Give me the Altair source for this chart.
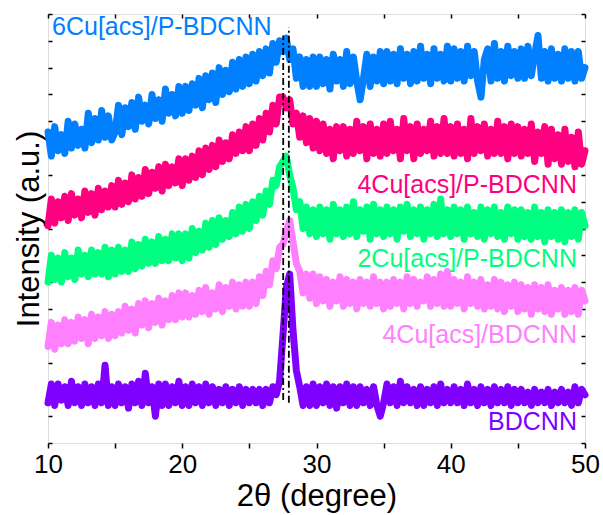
import altair as alt
import pandas as pd

# 2-theta grid (degrees), 0.25 deg steps
two_theta = [
    10.0, 10.25, 10.5, 10.75, 11.0, 11.25, 11.5, 11.75, 12.0, 12.25,
    12.5, 12.75, 13.0, 13.25, 13.5, 13.75, 14.0, 14.25, 14.5, 14.75,
    15.0, 15.25, 15.5, 15.75, 16.0, 16.25, 16.5, 16.75, 17.0, 17.25,
    17.5, 17.75, 18.0, 18.25, 18.5, 18.75, 19.0, 19.25, 19.5, 19.75,
    20.0, 20.25, 20.5, 20.75, 21.0, 21.25, 21.5, 21.75, 22.0, 22.25,
    22.5, 22.75, 23.0, 23.25, 23.5, 23.75, 24.0, 24.25, 24.5, 24.75,
    25.0, 25.25, 25.5, 25.75, 26.0, 26.25, 26.5, 26.75, 27.0, 27.25,
    27.5, 27.75, 28.0, 28.25, 28.5, 28.75, 29.0, 29.25, 29.5, 29.75,
    30.0, 30.25, 30.5, 30.75, 31.0, 31.25, 31.5, 31.75, 32.0, 32.25,
    32.5, 32.75, 33.0, 33.25, 33.5, 33.75, 34.0, 34.25, 34.5, 34.75,
    35.0, 35.25, 35.5, 35.75, 36.0, 36.25, 36.5, 36.75, 37.0, 37.25,
    37.5, 37.75, 38.0, 38.25, 38.5, 38.75, 39.0, 39.25, 39.5, 39.75,
    40.0, 40.25, 40.5, 40.75, 41.0, 41.25, 41.5, 41.75, 42.0, 42.25,
    42.5, 42.75, 43.0, 43.25, 43.5, 43.75, 44.0, 44.25, 44.5, 44.75,
    45.0, 45.25, 45.5, 45.75, 46.0, 46.25, 46.5, 46.75, 47.0, 47.25,
    47.5, 47.75, 48.0, 48.25, 48.5, 48.75, 49.0, 49.25, 49.5, 49.75,
    50.0,
]

# Offset intensities (a.u.), one row per 5 degrees
cu6_p = [
    11.6, 10.7, 11.8, 10.9, 11.5, 10.8, 12.0, 11.0, 11.9, 11.1, 11.7, 11.0, 12.3, 11.2, 12.1, 11.3, 12.4, 11.4, 12.2, 11.3,
    11.6, 12.6, 11.5, 12.5, 11.8, 12.7, 11.7, 12.9, 12.0, 12.6, 11.9, 13.0, 12.1, 12.8, 12.0, 13.2, 12.3, 13.0, 12.2, 13.3,
    12.3, 13.3, 12.4, 13.4, 12.6, 13.6, 12.5, 13.7, 12.8, 13.8, 12.7, 14.0, 13.0, 13.9, 13.1, 14.2, 13.2, 14.3, 13.3, 14.4,
    13.4, 14.5, 13.5, 14.6, 13.7, 14.7, 13.8, 14.9, 14.2, 15.0, 14.6, 15.1, 14.3, 14.7, 13.6, 14.4, 13.3, 14.3, 13.3, 14.4,
    13.3, 14.4, 13.4, 14.3, 13.2, 14.5, 13.5, 14.3, 13.3, 14.6, 13.4, 14.4, 13.5, 12.8, 13.6, 14.5, 13.3, 14.4, 13.5, 14.6,
    13.4, 14.6, 13.5, 14.5, 13.4, 14.7, 13.6, 14.5, 13.4, 14.6, 13.5, 14.8, 13.6, 14.5, 13.4, 14.7, 13.6, 14.5, 13.5, 14.8,
    13.5, 14.7, 13.6, 14.6, 13.5, 14.8, 13.7, 14.6, 13.5, 12.9, 14.3, 14.7, 13.5, 14.9, 13.6, 14.6, 13.5, 14.8, 13.7, 14.6,
    13.6, 14.7, 13.6, 14.8, 13.7, 14.5, 15.2, 13.6, 14.6, 13.5, 14.7, 13.6, 14.5, 13.5, 14.7, 13.6, 14.6, 13.5, 14.6, 13.6,
    14.0,
]
cu4_p = [
    8.1, 9.1, 8.2, 9.0, 8.4, 9.2, 8.3, 9.3, 8.5, 9.1, 8.4, 9.4, 8.6, 9.3, 8.5, 9.5, 8.7, 9.4, 8.8, 9.6,
    8.8, 9.8, 8.9, 9.7, 9.0, 10.0, 9.1, 9.9, 9.2, 10.2, 9.3, 10.1, 9.5, 10.3, 9.4, 10.4, 9.6, 10.3, 9.7, 10.6,
    9.6, 10.6, 9.8, 10.7, 9.9, 10.9, 10.0, 11.0, 10.2, 11.1, 10.3, 11.3, 10.5, 11.2, 10.6, 11.5, 10.8, 11.6, 10.9, 11.8,
    10.9, 11.9, 11.1, 12.1, 11.3, 12.3, 11.6, 12.6, 11.9, 12.9, 12.9, 12.5, 12.8, 11.9, 12.3, 11.4, 12.2, 11.2, 12.1, 11.0,
    12.0, 10.9, 11.9, 10.8, 11.7, 10.6, 11.8, 10.9, 11.8, 10.7, 11.7, 10.8, 12.0, 10.9, 11.8, 10.6, 11.9, 10.8, 11.7, 10.7,
    11.9, 10.8, 12.0, 10.9, 11.7, 10.6, 12.1, 10.9, 11.8, 10.6, 11.9, 10.8, 11.7, 10.9, 12.0, 10.7, 11.8, 10.8, 12.1, 10.8,
    11.8, 10.7, 11.9, 10.8, 11.7, 10.6, 12.1, 10.8, 11.8, 10.9, 11.9, 10.7, 11.7, 10.8, 12.0, 10.8, 11.8, 10.6, 11.9, 10.8,
    11.8, 10.7, 11.7, 10.8, 11.9, 10.5, 11.6, 10.8, 11.8, 10.4, 11.7, 10.6, 11.5, 10.4, 11.7, 10.5, 11.4, 10.3, 11.6, 10.4,
    10.9,
]
cu2_p = [
    6.0, 7.0, 6.1, 6.9, 6.0, 7.1, 6.2, 6.9, 6.1, 7.2, 6.3, 7.0, 6.2, 7.2, 6.3, 7.1, 6.3, 7.3, 6.2, 7.2,
    6.3, 7.3, 6.4, 7.2, 6.4, 7.5, 6.5, 7.4, 6.6, 7.6, 6.7, 7.5, 6.7, 7.7, 6.8, 7.6, 6.8, 7.8, 6.9, 7.8,
    6.8, 7.8, 6.9, 8.0, 7.1, 7.9, 7.2, 8.2, 7.3, 8.3, 7.4, 8.4, 7.6, 8.3, 7.7, 8.6, 7.8, 8.8, 7.9, 8.9,
    8.0, 9.0, 8.3, 9.2, 8.5, 9.4, 8.9, 9.8, 9.6, 10.3, 10.5, 10.7, 10.0, 9.5, 8.7, 9.0, 8.0, 8.8, 7.8, 8.7,
    7.7, 8.8, 7.8, 8.7, 7.6, 8.9, 7.8, 8.7, 7.7, 8.8, 7.8, 9.0, 7.7, 8.7, 7.9, 8.8, 7.6, 8.9, 7.8, 8.7,
    7.7, 8.8, 7.8, 8.7, 7.6, 8.8, 7.9, 8.9, 7.7, 8.7, 7.8, 8.8, 7.6, 8.7, 7.8, 8.9, 7.7, 9.1, 7.8, 8.7,
    7.7, 8.8, 7.8, 8.7, 7.6, 8.8, 7.8, 8.6, 7.7, 8.8, 7.6, 8.7, 7.8, 8.8, 7.7, 8.6, 7.6, 8.8, 7.8, 8.7,
    7.6, 8.7, 7.7, 8.6, 7.6, 8.8, 7.7, 8.6, 7.5, 8.7, 7.7, 8.6, 7.6, 8.7, 7.5, 8.6, 7.7, 8.7, 7.6, 8.6,
    8.1,
]
cu4 = [
    3.6, 4.5, 3.5, 4.4, 3.7, 4.6, 3.7, 4.5, 3.8, 4.7, 3.9, 4.6, 3.7, 4.8, 3.9, 4.7, 4.0, 4.9, 3.9, 4.8,
    4.0, 4.9, 4.1, 5.1, 4.2, 5.0, 4.1, 5.2, 4.4, 5.3, 4.3, 5.2, 4.5, 5.4, 4.4, 5.3, 4.6, 5.5, 4.6, 5.6,
    4.7, 5.6, 4.7, 5.5, 4.8, 5.7, 4.9, 5.8, 4.8, 5.6, 5.0, 5.9, 4.9, 5.8, 5.1, 6.0, 5.0, 5.9, 5.1, 6.0,
    5.1, 6.0, 5.2, 6.2, 5.5, 6.4, 5.9, 6.8, 6.5, 7.3, 7.4, 7.9, 8.3, 7.5, 6.7, 6.4, 5.6, 6.3, 5.4, 6.3,
    5.2, 6.2, 5.3, 6.1, 5.1, 6.0, 5.3, 6.2, 5.1, 6.1, 5.2, 6.0, 5.0, 6.1, 5.2, 6.0, 5.1, 6.2, 5.2, 6.0,
    5.0, 6.0, 5.1, 6.1, 5.2, 6.0, 5.0, 6.2, 5.2, 6.1, 5.1, 6.0, 5.3, 6.2, 5.1, 6.1, 5.2, 6.3, 5.1, 6.4,
    5.1, 6.1, 5.2, 6.0, 5.0, 6.2, 5.2, 6.0, 5.1, 6.1, 5.0, 5.9, 5.1, 6.1, 5.0, 6.0, 4.9, 5.9, 5.1, 6.0,
    4.9, 5.9, 5.0, 5.8, 4.8, 5.9, 5.0, 5.8, 4.9, 5.9, 4.8, 5.7, 5.0, 5.8, 4.8, 5.7, 4.9, 5.8, 4.8, 5.7,
    5.3,
]
bdcnn = [
    1.5, 2.2, 1.4, 2.2, 1.6, 2.1, 1.4, 2.3, 1.5, 2.1, 1.4, 2.2, 1.5, 2.1, 1.4, 2.2, 1.5, 2.9, 1.4, 2.1,
    1.4, 2.2, 1.5, 2.1, 1.3, 2.2, 1.5, 2.3, 1.4, 2.6, 1.5, 2.1, 1.0, 2.2, 1.4, 2.2, 1.4, 2.1, 1.5, 2.3,
    1.4, 2.1, 1.4, 2.2, 1.5, 2.1, 1.4, 2.2, 1.5, 2.1, 1.4, 2.0, 1.5, 2.1, 1.4, 2.0, 1.5, 2.1, 1.4, 2.0,
    1.5, 2.0, 1.5, 2.0, 1.4, 2.0, 1.5, 2.1, 1.8, 2.3, 4.0, 5.8, 6.3, 4.2, 2.7, 2.1, 1.4, 2.1, 1.4, 2.2,
    1.4, 2.1, 1.5, 2.2, 1.4, 2.1, 1.3, 2.1, 1.5, 2.2, 1.4, 2.1, 1.4, 2.1, 1.5, 2.0, 1.4, 2.1, 1.4, 1.0,
    1.5, 2.2, 1.5, 2.1, 1.4, 2.3, 1.5, 2.1, 1.5, 2.0, 1.4, 2.1, 1.4, 2.0, 1.5, 2.1, 1.4, 2.2, 1.5, 2.0,
    1.5, 2.1, 1.5, 2.0, 1.4, 2.2, 1.5, 2.0, 1.4, 2.1, 1.5, 2.0, 1.4, 2.1, 1.5, 2.0, 1.5, 2.1, 1.4, 2.0,
    1.5, 2.0, 1.5, 1.9, 1.4, 2.0, 1.5, 1.9, 1.5, 2.0, 1.4, 1.9, 1.5, 2.0, 1.5, 1.9, 1.4, 2.1, 1.5, 2.0,
    1.8,
]

# draw order: top series first, bottom series last (drawn on top)
series_names = ["6Cu[acs]/P-BDCNN", "4Cu[acs]/P-BDCNN", "2Cu[acs]/P-BDCNN",
                "4Cu[acs]/BDCNN", "BDCNN"]
series_values = [cu6_p, cu4_p, cu2_p, cu4, bdcnn]
series_colors = ["#0080FF", "#FF0080", "#00FF80", "#FF80FF", "#8000FF"]

# labels (position in data units)
label_x = [10.3, 49.4, 49.4, 49.4, 49.4]
label_y = [15.2, 9.33, 6.55, 3.73, 0.49]
label_align = ["left", "right", "right", "right", "right"]

# dash-dot reference lines
ref_x = [27.52, 27.94]
ref_top = [15.2, 15.5]
ref_bottom = [1.6, 1.5]

x_ticks = [10, 15, 20, 25, 30, 35, 40, 45, 50]
y_ticks = list(range(0, 17))

FONT = "Liberation Sans"
xscale = alt.Scale(domain=[10, 50], nice=False, zero=False)
yscale = alt.Scale(domain=[0, 16], nice=False, zero=False)

layers = []
for name, vals, col in zip(series_names, series_values, series_colors):
    n = min(len(two_theta), len(vals))
    d = pd.DataFrame({"x": two_theta[:n], "y": vals[:n]})
    layers.append(
        alt.Chart(d).mark_line(color=col, strokeWidth=7, strokeCap="round",
                               strokeJoin="round").encode(
            x=alt.X("x:Q", scale=xscale, axis=None),
            y=alt.Y("y:Q", scale=yscale, axis=None),
        )
    )

ref_df = pd.DataFrame({"x": ref_x, "y": ref_bottom, "y2": ref_top})
layers.append(
    alt.Chart(ref_df).mark_rule(color="black", strokeWidth=1.8,
                                strokeDash=[7, 3, 2, 3]).encode(
        x=alt.X("x:Q", scale=xscale, axis=None),
        y=alt.Y("y:Q", scale=yscale, axis=None),
        y2="y2:Q",
    )
)

for i, name in enumerate(series_names):
    ld = pd.DataFrame({"x": [label_x[i]], "y": [label_y[i]], "t": [name]})
    layers.append(
        alt.Chart(ld).mark_text(font=FONT, fontSize=25, align=label_align[i],
                                baseline="alphabetic",
                                color=series_colors[i]).encode(
            x=alt.X("x:Q", scale=xscale, axis=None),
            y=alt.Y("y:Q", scale=yscale, axis=None),
            text="t:N",
        )
    )

frame_df = pd.DataFrame({"x": [10, 50], "y": [0, 16]})
axes_main = alt.Chart(frame_df).mark_point(opacity=0).encode(
    x=alt.X("x:Q", scale=xscale, axis=alt.Axis(
        orient="bottom", values=x_ticks, title="2θ (degree)",
        labelExpr="datum.value % 10 == 0 ? datum.label : ''",
        labelFont=FONT, labelFontSize=26, labelColor="black", labelPadding=3,
        labelFlush=False, labelOverlap=False,
        titleFont=FONT, titleFontSize=31, titleFontWeight="normal",
        titleColor="black", titlePadding=4,
        domain=False, tickColor="black", tickWidth=1.5, tickSize=5,
        grid=False)),
    y=alt.Y("y:Q", scale=yscale, axis=alt.Axis(
        orient="left", values=y_ticks, labels=False, title="Intensity (a.u.)",
        titleFont=FONT, titleFontSize=31, titleFontWeight="normal",
        titleColor="black", titlePadding=2,
        domain=False, tickColor="black", tickWidth=1.5, tickSize=4, offset=-4,
        grid=False)),
)
axes_mirror = alt.Chart(frame_df).mark_point(opacity=0).encode(
    x=alt.X("x:Q", scale=xscale, axis=alt.Axis(
        orient="top", values=x_ticks, labels=False, title=None,
        domain=False, tickColor="black", tickWidth=1.5, tickSize=4, offset=-4,
        grid=False)),
    y=alt.Y("y:Q", scale=yscale, axis=alt.Axis(
        orient="right", values=y_ticks, labels=False, title=None,
        domain=False, tickColor="black", tickWidth=1.5, tickSize=4, offset=-4,
        grid=False)),
)

chart = alt.layer(axes_main, axes_mirror, *layers).resolve_axis(
    x="independent", y="independent"
).properties(
    width=537, height=429,
    autosize=alt.AutoSizeParams(type="none"),
    padding={"left": 48, "top": 14, "right": 18, "bottom": 72},
).configure_view(stroke="black", strokeWidth=2).configure(background="white")

chart.save("out.html", embed_options={"renderer": "svg", "actions": False})
